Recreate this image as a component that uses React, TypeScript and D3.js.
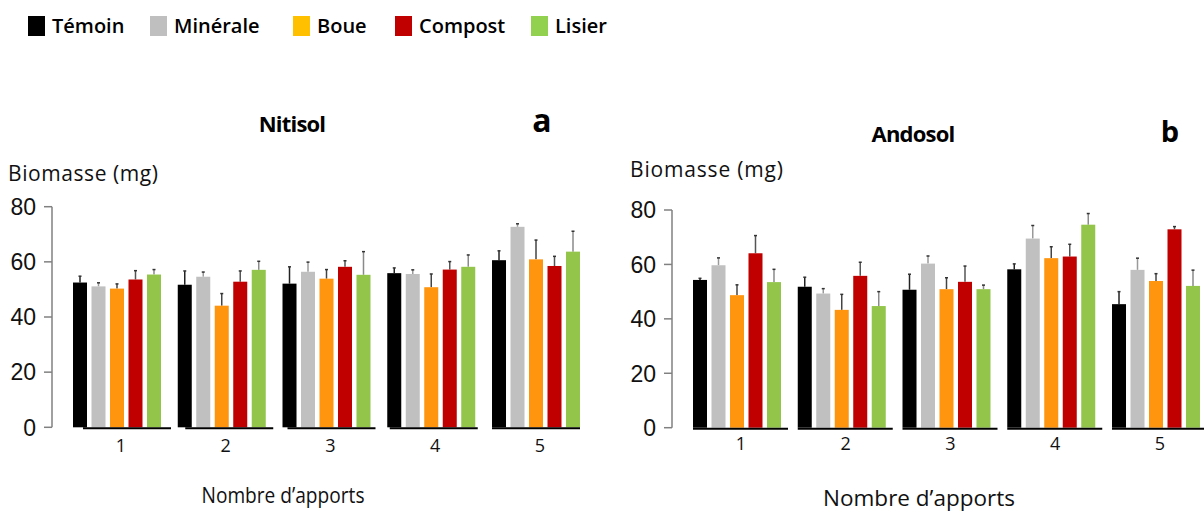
import React from "react";
import * as d3 from "d3";

const groups = ["1", "2", "3", "4", "5"];
const series = ["Témoin", "Minérale", "Boue", "Compost", "Lisier"];
const yTicks = [0, 20, 40, 60, 80];

const barColors = ["#000000", "#c0c0c0", "#ff940e", "#c00000", "#92c54a"];
const legendColors = ["#000000", "#bfbfbf", "#ffc000", "#c00000", "#92d050"];
const errColors = ["#222222", "#9a9a9a", "#444444", "#555555", "#8a8a8a"];

// Nitisol (a): one row per series, one value per number of inputs
const nitisolMeans = [
  [52.5, 51.7, 52.1, 55.9, 60.6],
  [51.1, 54.6, 56.4, 55.6, 72.7],
  [50.3, 44.1, 53.9, 50.8, 60.9],
  [53.6, 52.8, 58.2, 57.2, 58.5],
  [55.4, 57.1, 55.3, 58.2, 63.7],
];
const nitisolErrors = [
  [2.3, 5.0, 6.1, 1.9, 3.4],
  [1.3, 1.7, 3.5, 1.5, 1.1],
  [1.7, 4.4, 3.3, 4.8, 7.0],
  [3.2, 3.9, 2.2, 2.9, 3.5],
  [1.8, 3.1, 8.4, 4.3, 7.4],
];

// Andosol (b)
const andosolMeans = [
  [54.3, 51.8, 50.7, 58.2, 45.4],
  [59.7, 49.3, 60.3, 69.5, 58.0],
  [48.7, 43.3, 50.9, 62.3, 53.9],
  [64.1, 55.8, 53.6, 62.9, 72.9],
  [53.5, 44.7, 50.9, 74.6, 52.1],
];
const andosolErrors = [
  [0.6, 3.5, 5.7, 2.0, 4.6],
  [2.7, 1.8, 2.8, 4.8, 4.3],
  [3.8, 5.7, 4.2, 4.2, 2.7],
  [6.5, 5.0, 5.8, 4.5, 1.0],
  [4.7, 5.3, 1.5, 4.1, 5.8],
];

interface PanelProps {
  means: number[][];
  errors: number[][];
  title: string;
  letter: string;
  axisX: number;
  yBottom: number;
  yTop: number;
  xStart: number;
  xEnd: number;
  titleX: number;
  titleY: number;
  letterX: number;
  letterY: number;
  letterSize: number;
  yLabelX: number;
  yLabelY: number;
  yLabelLen: number;
  xTitleX: number;
  xTitleY: number;
  xTitleSize: number;
  xTitleLen: number;
  lineShift: (i: number) => number;
  lineExtra: number;
  catLabelY: number;
}

function Panel(p: PanelProps) {
  const y = d3.scaleLinear().domain([0, 80]).range([p.yBottom, p.yTop]);
  const x0 = d3.scaleBand<string>().domain(groups).range([p.xStart, p.xEnd]).paddingInner(0.16).paddingOuter(0);
  const x1 = d3.scaleBand<string>().domain(series).range([0, x0.bandwidth()]).paddingInner(0.243).paddingOuter(0);

  return (
    <g>
      {/* y axis */}
      <line x1={p.axisX} x2={p.axisX} y1={y(0)} y2={y(80)} stroke="#808080" strokeWidth={1.5} />
      {yTicks.map((t) => (
        <g key={t}>
          <line x1={p.axisX - 8} x2={p.axisX} y1={y(t)} y2={y(t)} stroke="#808080" strokeWidth={1.5} />
          <text x={p.axisX - 16} y={y(t)} dy="0.36em" textAnchor="end"
            fontFamily="Liberation Sans, Arial, sans-serif" fontSize={23} fill="#111">{t}</text>
        </g>
      ))}

      {/* bars and error bars */}
      {groups.map((g, gi) => (
        <g key={g} transform={`translate(${x0(g)},0)`}>
          {series.map((s, si) => {
            const v = p.means[si][gi];
            const e = p.errors[si][gi];
            const bx = x1(s)!;
            const cx = bx + x1.bandwidth() / 2;
            return (
              <g key={s}>
                <line x1={cx} x2={cx} y1={y(v)} y2={y(v + e)} stroke={errColors[si]} strokeWidth={1.5} />
                <line x1={cx - 1.5} x2={cx + 1.5} y1={y(v + e)} y2={y(v + e)} stroke="#333" strokeWidth={1.5} />
                <rect x={bx} y={y(v)} width={x1.bandwidth()} height={y(0) - y(v)} fill={barColors[si]} />
              </g>
            );
          })}
          <line x1={p.lineShift(gi)} x2={x0.bandwidth() + p.lineShift(gi) + p.lineExtra}
            y1={y(0) + 1} y2={y(0) + 1} stroke="#000" strokeWidth={2} />
          <text x={x0.bandwidth() / 2 + 4} y={p.catLabelY} textAnchor="middle"
            fontFamily="Open Sans, sans-serif" fontSize={18} fill="#111">{g}</text>
        </g>
      ))}

      <text x={p.titleX} y={p.titleY} textAnchor="middle" fontFamily="Open Sans, sans-serif"
        fontWeight={700} fontSize={22} letterSpacing={-0.8} fill="#000">{p.title}</text>
      <text x={p.letterX} y={p.letterY} textAnchor="middle" fontFamily="Open Sans, sans-serif"
        fontWeight={700} fontSize={p.letterSize} fill="#000">{p.letter}</text>
      <text x={p.yLabelX} y={p.yLabelY} fontFamily="Open Sans, sans-serif" fontSize={21}
        textLength={p.yLabelLen} lengthAdjust="spacing" fill="#111">Biomasse (mg)</text>
      <text x={p.xTitleX} y={p.xTitleY} textAnchor="middle" fontFamily="Open Sans, sans-serif"
        fontSize={p.xTitleSize} textLength={p.xTitleLen} lengthAdjust="spacingAndGlyphs" fill="#111">Nombre d’apports</text>
    </g>
  );
}

function Legend() {
  const x = d3.scaleOrdinal<string, number>().domain(series).range([28, 150, 293, 395, 531]);
  return (
    <g>
      {series.map((s, i) => (
        <g key={s} transform={`translate(${x(s)},16)`}>
          <rect x={0} y={0} width={17} height={20} fill={legendColors[i]} />
          <text x={24} y={17} fontFamily="Open Sans, sans-serif" fontWeight={600} fontSize={20} fill="#000">{s}</text>
        </g>
      ))}
    </g>
  );
}

export default function App() {
  return (
    <div style={{ position: "absolute", left: 0, top: 0 }}>
      <svg width={1204} height={512} style={{ display: "block", background: "#fff" }}>
        <Legend />
        <Panel
          means={nitisolMeans} errors={nitisolErrors} title="Nitisol" letter="a"
          axisX={52} yBottom={427.3} yTop={206.7} xStart={73} xEnd={580}
          titleX={292} titleY={132} letterX={542} letterY={132} letterSize={32}
          yLabelX={8} yLabelY={181} yLabelLen={150}
          xTitleX={283} xTitleY={503} xTitleSize={21} xTitleLen={163}
          lineShift={(i) => 10 - 2.5 * i} lineExtra={0} catLabelY={452}
        />
        <Panel
          means={andosolMeans} errors={andosolErrors} title="Andosol" letter="b"
          axisX={672} yBottom={427.7} yTop={210} xStart={693} xEnd={1200}
          titleX={913} titleY={142} letterX={1170} letterY={142} letterSize={29}
          yLabelX={630} yLabelY={177} yLabelLen={153}
          xTitleX={919} xTitleY={506} xTitleSize={22} xTitleLen={192}
          lineShift={() => 0} lineExtra={7} catLabelY={450}
        />
      </svg>
    </div>
  );
}
